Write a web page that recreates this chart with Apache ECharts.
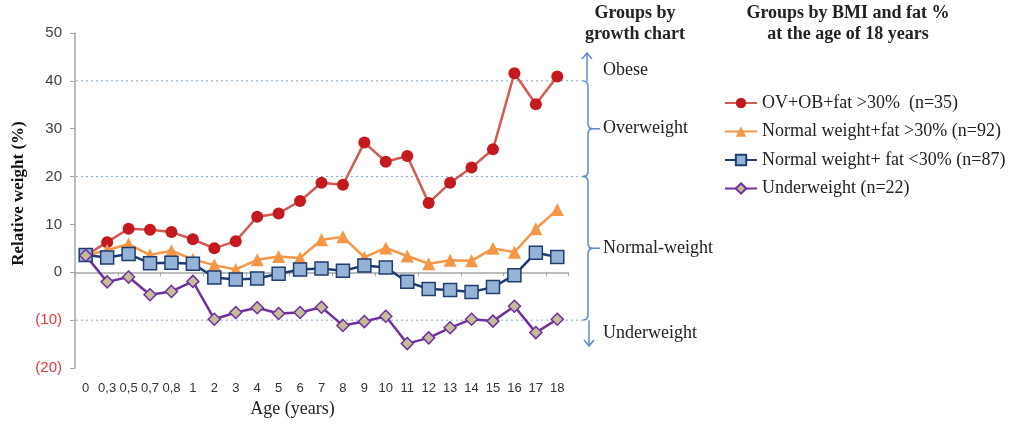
<!DOCTYPE html>
<html>
<head>
<meta charset="utf-8">
<script src="https://cdn.jsdelivr.net/npm/echarts@6/dist/echarts.min.js"></script>
<style>
  html, body { margin: 0; padding: 0; background: #fff; }
  #chart { width: 1013px; height: 425px; }
</style>
</head>
<body>
<div id="chart"></div>
<script>
// ages on the x axis (Excel-style decimal comma)
var ages = ["0", "0,3", "0,5", "0,7", "0,8", "1", "2", "3", "4", "5", "6", "7", "8",
  "9", "10", "11", "12", "13", "14", "15", "16", "17", "18"];

// relative weight (%) per group
var ovObFat = [3.5, 6.3, 9.1, 8.9, 8.4, 6.9, 5.0, 6.5, 11.6, 12.3, 14.9, 18.7, 18.3,
  27.1, 23.1, 24.3, 14.5, 18.7, 21.9, 25.7, 41.6, 35.1, 40.9];
var normalFatHigh = [3.5, 4.6, 5.9, 3.6, 4.5, 2.7, 1.5, 0.6, 2.6, 3.3, 3.0, 6.8, 7.4,
  3.1, 5.1, 3.4, 1.8, 2.5, 2.4, 5.0, 4.2, 9.1, 13.1];
var normalFatLow = [3.6, 3.1, 3.8, 1.9, 2.0, 1.8, -1.1, -1.5, -1.3, -0.3, 0.6, 0.8, 0.3,
  1.4, 1.0, -2.0, -3.5, -3.7, -4.1, -3.1, -0.6, 4.1, 3.2];
var underweight = [3.5, -2.0, -1.0, -4.7, -4.0, -1.9, -9.8, -8.4, -7.4, -8.6, -8.4, -7.3, -11.1,
  -10.3, -9.2, -14.9, -13.7, -11.6, -9.8, -10.2, -7.1, -12.6, -9.8];

var seriesNames = ["OV+OB+fat >30%  (n=35)", "Normal weight+fat >30% (n=92)",
  "Normal weight+ fat <30% (n=87)", "Underweight (n=22)"];

// growth chart cut-offs and their group labels
var cutoffs = [40, 20, -10];
var groupLabels = ["Obese", "Overweight", "Normal-weight", "Underweight"];

var yTicks = { min: -20, max: 50, interval: 10 };

var serif = "'Liberation Serif', 'DejaVu Serif', serif";
var sans = "'Liberation Sans', Arial, sans-serif";
var braceColor = "#5b8bd0";
var gridLeft = 75;
var braceX = 588;

var chart = echarts.init(document.getElementById("chart"));

chart.setOption({
  animation: false,
  grid: { left: gridLeft, right: 445, top: 33, bottom: 57, containLabel: false },
  legend: {
    orient: "vertical",
    left: 719,
    top: 88,
    itemWidth: 32,
    itemHeight: 13,
    itemGap: 8.5,
    data: seriesNames,
    textStyle: { fontFamily: serif, fontSize: 18, color: "#222", lineHeight: 20 }
  },
  xAxis: [
    {
      type: "category",
      data: ages,
      position: "bottom",
      axisLine: { show: false, onZero: false },
      axisTick: { show: false },
      axisLabel: { interval: 0, margin: 14, fontFamily: sans, fontSize: 13, color: "#333" },
      name: "Age (years)",
      nameLocation: "middle",
      nameGap: 31,
      nameTextStyle: { fontFamily: serif, fontSize: 18, color: "#222", padding: [0, 58, 0, 0] }
    },
    {
      // the zero line with its little ticks
      type: "category",
      data: ages,
      position: "bottom",
      axisLine: { onZero: true, lineStyle: { color: "#a6a6a6", width: 1.5 } },
      axisTick: { show: true, length: 4, lineStyle: { color: "#a6a6a6" } },
      axisLabel: { show: false }
    }
  ],
  yAxis: {
    type: "value",
    min: yTicks.min,
    max: yTicks.max,
    interval: yTicks.interval,
    name: "Relative weight (%)",
    nameLocation: "middle",
    nameGap: 48,
    nameTextStyle: { fontFamily: serif, fontSize: 17, fontWeight: "bold", color: "#111", padding: [0, 0, 0, 14] },
    axisLine: { show: true, lineStyle: { color: "#a6a6a6", width: 1.5 } },
    axisTick: { show: true, length: 5, lineStyle: { color: "#a6a6a6" } },
    splitLine: { show: false },
    axisLabel: {
      margin: 13,
      fontFamily: sans,
      fontSize: 15,
      color: "#404040",
      formatter: function (v) {
        return v < 0 ? "{neg|(" + (-v) + ")}" : String(v);
      },
      rich: { neg: { color: "#e8383d", fontFamily: sans, fontSize: 15 } }
    }
  },
  series: [
    {
      name: seriesNames[0],
      type: "line",
      data: ovObFat,
      symbol: "circle",
      symbolSize: 12,
      lineStyle: { color: "#d45a55", width: 2.5 },
      itemStyle: { color: "#c3191f" }
    },
    {
      name: seriesNames[1],
      type: "line",
      data: normalFatHigh,
      symbol: "triangle",
      symbolSize: 13,
      lineStyle: { color: "#f79646", width: 2.5 },
      itemStyle: { color: "#f79646" }
    },
    {
      name: seriesNames[2],
      type: "line",
      data: normalFatLow,
      symbol: "rect",
      symbolSize: 13,
      lineStyle: { color: "#1f3d6e", width: 2.5 },
      itemStyle: { color: "#95b3d7", borderColor: "#1f3d6e", borderWidth: 1.5 }
    },
    {
      name: seriesNames[3],
      type: "line",
      data: underweight,
      symbol: "diamond",
      symbolSize: 12,
      lineStyle: { color: "#7030a0", width: 2.5 },
      itemStyle: { color: "#c4bd97", borderColor: "#7030a0", borderWidth: 1.5 }
    }
  ]
});

// annotations on the right: dotted cut-off lines, braces, arrows, group names
function yPx(v) {
  return chart.convertToPixel({ yAxisIndex: 0 }, v);
}

var cut = cutoffs.map(yPx);
var lineStyle = { stroke: braceColor, lineWidth: 1.5, fill: null };
var els = [];

cut.forEach(function (y) {
  els.push({
    type: "line",
    z: 0,
    shape: { x1: gridLeft + 1, y1: y, x2: braceX - 4, y2: y },
    style: { stroke: "#7fa7dc", lineWidth: 1, lineDash: [2, 3] }
  });
});

function brace(yTop, yBot) {
  var m = (yTop + yBot) / 2;
  var x = braceX;
  return {
    type: "polyline",
    shape: {
      points: [
        [x - 5, yTop], [x - 1.5, yTop + 0.8], [x, yTop + 4],
        [x, m - 4], [x + 1.5, m - 0.8], [x + 5, m], [x + 12, m],
        [x + 5, m], [x + 1.5, m + 0.8], [x, m + 4],
        [x, yBot - 4], [x - 1.5, yBot - 0.8], [x - 5, yBot]
      ]
    },
    style: lineStyle
  };
}

els.push(brace(cut[0], cut[1]));
els.push(brace(cut[1], cut[2]));

// arrow up (obese) and down (underweight)
var topArrow = yPx(yTicks.max) + 20;
var botArrow = yPx(yTicks.min) - 22;
els.push({ type: "line", shape: { x1: braceX - 1, y1: cut[0], x2: braceX - 1, y2: topArrow }, style: lineStyle });
els.push({ type: "polyline", shape: { points: [[braceX - 6, topArrow + 6], [braceX - 1, topArrow], [braceX + 4, topArrow + 6]] }, style: lineStyle });
els.push({ type: "line", shape: { x1: braceX + 1, y1: cut[2], x2: braceX + 1, y2: botArrow }, style: lineStyle });
els.push({ type: "polyline", shape: { points: [[braceX - 4, botArrow - 6], [braceX + 1, botArrow], [braceX + 6, botArrow - 6]] }, style: lineStyle });

var labelYs = [topArrow + 17, (cut[0] + cut[1]) / 2, (cut[1] + cut[2]) / 2, cut[2] + 13];
groupLabels.forEach(function (t, i) {
  els.push({
    type: "text",
    x: braceX + 15,
    y: labelYs[i],
    style: { text: t, fontFamily: serif, fontSize: 18, fill: "#222", verticalAlign: "middle" }
  });
});

els.push({
  type: "text",
  x: 635,
  y: 3,
  style: {
    text: "Groups by\ngrowth chart",
    fontFamily: serif, fontSize: 18, fontWeight: "bold", fill: "#222",
    align: "center", lineHeight: 21
  }
});
els.push({
  type: "text",
  x: 848,
  y: 3,
  style: {
    text: "Groups by BMI and fat %\nat the age of 18 years",
    fontFamily: serif, fontSize: 18, fontWeight: "bold", fill: "#222",
    align: "center", lineHeight: 21
  }
});

chart.setOption({ graphic: { elements: els } });
</script>
</body>
</html>
